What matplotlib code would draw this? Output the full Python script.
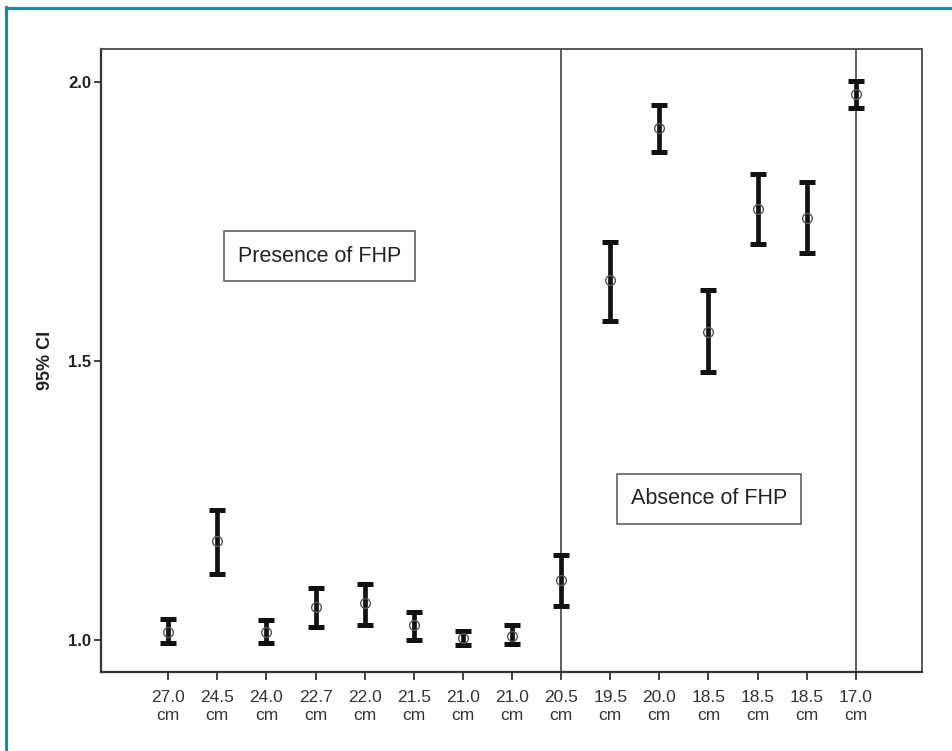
import matplotlib
matplotlib.use("Agg")
import matplotlib.pyplot as plt
import numpy as np

plt.rcParams['font.family'] = ['Liberation Sans', 'DejaVu Sans']

categories = ["27.0\ncm", "24.5\ncm", "24.0\ncm", "22.7\ncm", "22.0\ncm", "21.5\ncm", "21.0\ncm",
              "21.0\ncm", "20.5\ncm", "19.5\ncm", "20.0\ncm", "18.5\ncm", "18.5\ncm", "18.5\ncm", "17.0\ncm"]
means = [1.014, 1.177, 1.015, 1.060, 1.066, 1.027, 1.004, 1.008, 1.107,
         1.645, 1.917, 1.552, 1.773, 1.756, 1.978]
upper = [1.038, 1.233, 1.036, 1.094, 1.101, 1.051, 1.017, 1.027, 1.152,
         1.714, 1.959, 1.627, 1.835, 1.820, 2.002]
lower = [0.995, 1.119, 0.995, 1.023, 1.027, 1.000, 0.992, 0.993, 1.061,
         1.572, 1.875, 1.480, 1.710, 1.694, 1.953]
divider_idx = [8, 14]
y_ticks = [1.0, 1.5, 2.0]

fig = plt.figure(figsize=(9.53, 7.51), dpi=100)
# teal frame lines
fig.add_artist(plt.Line2D([6/953, 6/953], [0, 1 - 7/751], color='#1b8aa6', lw=2.2))
fig.add_artist(plt.Line2D([6/953, 1], [1 - 8/751, 1 - 8/751], color='#1b8aa6', lw=2.2))

ax = fig.add_axes([101/953, 1 - 672/751, (922 - 101)/953, (672 - 49)/751])
x = np.arange(len(categories))
m = np.array(means)
yerr = np.vstack([m - np.array(lower), np.array(upper) - m])
ax.errorbar(x, m, yerr=yerr, fmt='none', ecolor='#111111', elinewidth=3.4,
            capsize=5.5, capthick=3.6, zorder=3)
ax.plot(x, m, 'o', mfc='none', mec='#555555', ms=7, mew=1.0, zorder=4)

for d in divider_idx:
    ax.axvline(d, color='#333333', lw=1.1, zorder=2)

ax.set_xlim(-1.37, 15.35)
ax.set_ylim(0.943, 2.059)
ax.set_xticks(x)
ax.set_xticklabels(categories, fontsize=12.5, color='#333333', linespacing=1.22)
ax.set_yticks(y_ticks)
ax.set_yticklabels([f"{v:.1f}" for v in y_ticks], fontsize=12, fontweight='bold', color='#222222')
ax.tick_params(axis='x', length=6, width=1.3, color='#333333', pad=7)
ax.tick_params(axis='y', length=5, width=1.3, color='#333333', pad=2)
ax.set_ylabel("95% CI", fontsize=13, fontweight='bold', color='#222222', labelpad=10)

for side in ['left', 'bottom']:
    ax.spines[side].set_color('#333333')
    ax.spines[side].set_linewidth(1.6)
for side in ['top', 'right']:
    ax.spines[side].set_color('#555555')
    ax.spines[side].set_linewidth(1.4)

ax.text(3.08, 1.688, "Presence of FHP", fontsize=15.5, ha='center', va='center', color='#222222',
        bbox=dict(boxstyle='square,pad=0.66', fc='white', ec='#555555', lw=1.1))
ax.text(11.01, 1.253, "Absence of FHP", fontsize=15.5, ha='center', va='center', color='#222222',
        bbox=dict(boxstyle='square,pad=0.66', fc='white', ec='#555555', lw=1.1))

fig.savefig("out.png", dpi=100)
